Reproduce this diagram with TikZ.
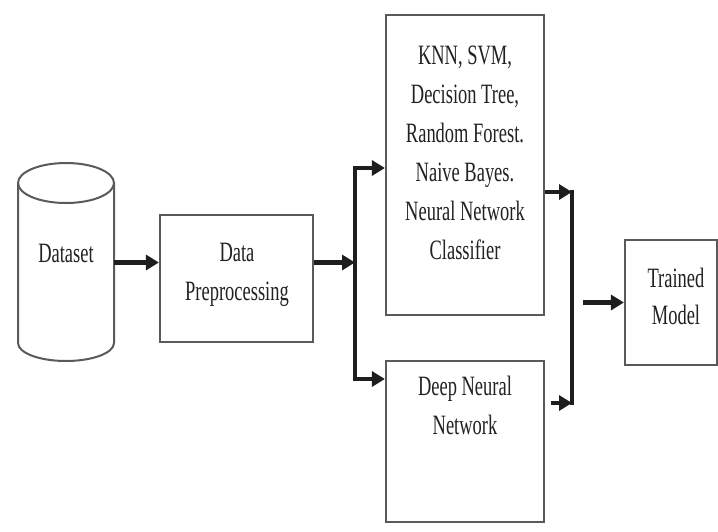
\documentclass[tikz,border=0pt]{standalone}
\usepackage{fontspec}
\setmainfont[FakeStretch=0.66]{Liberation Serif}
\usetikzlibrary{arrows.meta}
\definecolor{boxline}{HTML}{5A5A5A}
\definecolor{ink}{HTML}{1E1E1E}
\definecolor{txt}{HTML}{222222}
\begin{document}
\begin{tikzpicture}[x=1pt,y=-1pt,
  box/.style={draw=boxline, line width=2.2pt, inner sep=0pt},
  cyl/.style={draw=boxline, line width=2pt},
  lbl/.style={text=txt, font=\fontsize{28}{39}\selectfont, align=center, inner sep=0pt},
  flow/.style={draw=ink, line width=4.5pt, -{Triangle[length=13pt,width=15pt]}},
  rail/.style={draw=ink, line width=4.5pt}]
\fill[white] (0,0) rectangle (718,531);
\useasboundingbox (0,0) rectangle (718,531);

% dataset cylinder
\node[inner sep=0pt, minimum width=96pt, minimum height=199pt] (dataset) at (66,262.5) {};
\draw[cyl] (66,183) ellipse [x radius=48pt, y radius=20pt];
\draw[cyl] (18,183) -- (18,343) arc[start angle=180, end angle=360, x radius=48pt, y radius=18pt] -- (114,183);
\node[lbl] (dstext) at (66,253) {Dataset};

% processing boxes
\node[box, minimum width=153pt, minimum height=127pt] (dp) at (236.5,278.5) {};
\node[box, minimum width=158pt, minimum height=300pt] (ml) at (465,165) {};
\node[box, minimum width=158pt, minimum height=161pt] (dnn) at (465,441.5) {};
\node[box, minimum width=92pt, minimum height=125pt] (tm) at (671,302.5) {};

\node[lbl] (dptext) at (237,275) {Data\\Preprocessing};
\node[lbl] (mltext) at (465,153) {KNN, SVM,\\Decision Tree,\\Random Forest.\\Naive Bayes.\\Neural Network\\Classifier};
\node[lbl] (dnntext) at (465,405) {Deep Neural\\Network};
\node[lbl, font=\fontsize{28}{37}\selectfont] (tmtext) at (676,296) {Trained\\Model};

% split after preprocessing
\coordinate (split) at (355,262.5);
\coordinate (s1) at (355,168);
\coordinate (s2) at (355,379);
\draw[flow] (dataset.east) -- (dataset.east -| dp.west);
\draw[flow] (dp.east |- split) -- (split);
\draw[flow] (s2) -- (s1) -- (ml.west |- s1);
\draw[flow] (s1) -- (s2) -- (dnn.west |- s2);

% merge into the trained model
\coordinate (mtop) at (572,192);
\coordinate (mbot) at (572,403);
\coordinate (mstart) at ([xshift=6pt]dnn.east |- mbot);
\coordinate (tmstart) at ([xshift=11pt]mtop |- tm.west);
\draw[rail, line cap=rect] (mtop) -- (mbot);
\draw[flow] (ml.east |- mtop) -- (mtop);
\draw[flow] (mstart) -- (mbot);
\draw[flow] (tmstart) -- (tm.west);
\end{tikzpicture}
\end{document}
